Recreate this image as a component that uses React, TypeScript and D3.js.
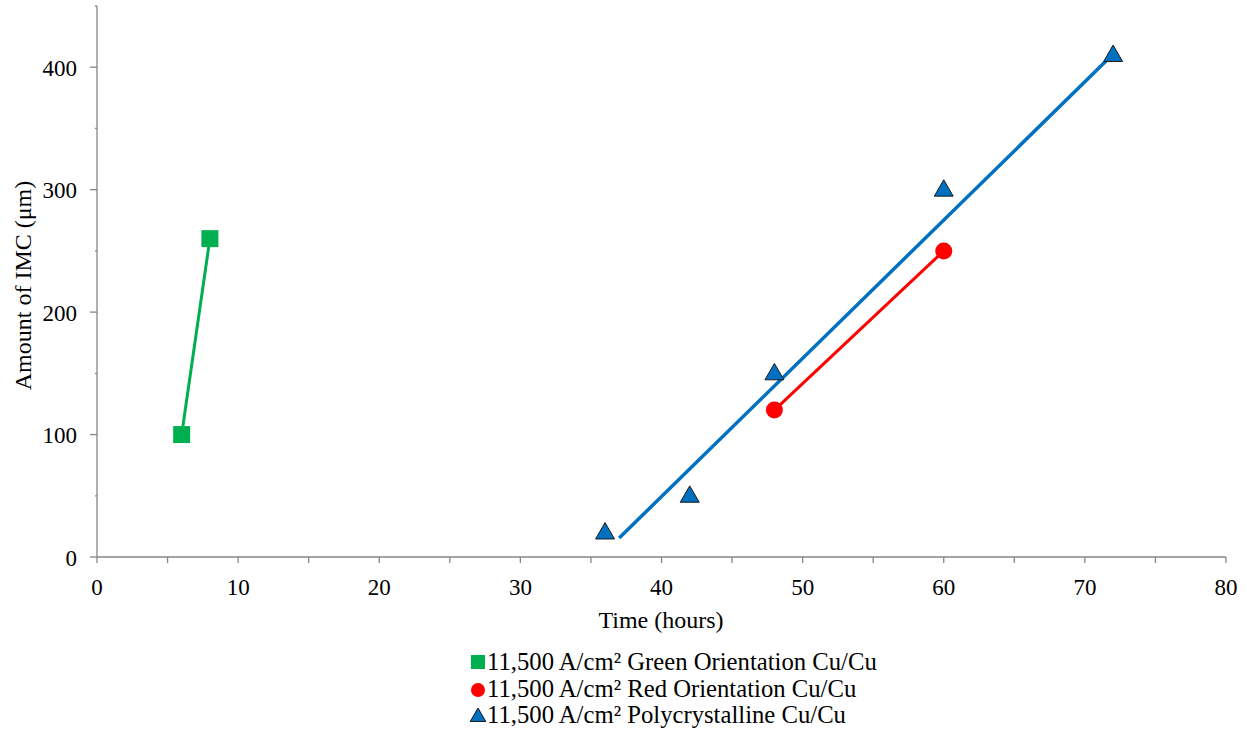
import React from "react";
import * as d3 from "d3";

const greenX = [6, 8];
const greenY = [100, 260];
const redX = [48, 60];
const redY = [120, 250];
const polyX = [36, 42, 48, 60, 72];
const polyY = [20, 50, 150, 300, 410];
const trendX = [37, 71.5];
const trendY = [15.5, 405];
const xTicks = [0, 10, 20, 30, 40, 50, 60, 70, 80];
const yTicks = [0, 100, 200, 300, 400];
const legendLabels = [
  "11,500 A/cm² Green Orientation Cu/Cu",
  "11,500 A/cm² Red Orientation Cu/Cu",
  "11,500 A/cm² Polycrystalline Cu/Cu",
];

const FONT = "'Liberation Serif', 'Times New Roman', serif";
const AXIS = "#868686";
const GREEN = "#00B050";
const RED = "#FF0000";
const BLUE = "#0070C0";

export default function App() {
  const x = d3.scaleLinear().domain([0, 80]).range([97, 1226]);
  const y = d3.scaleLinear().domain([0, 450]).range([557, 6]);
  const line = d3
    .line<[number, number]>()
    .x((d) => x(d[0]))
    .y((d) => y(d[1]));
  const zip = (a: number[], b: number[]) => a.map((v, i) => [v, b[i]] as [number, number]);
  const xMinor = d3.range(0, 81, 5);
  const yMinor = d3.range(0, 451, 50);
  const tri = d3.symbol().type(d3.symbolTriangle).size(155)();

  return (
    <svg width={1247} height={729} style={{ position: "absolute", left: 0, top: 0, background: "#fff" }}>
      <rect width={1247} height={729} fill="#fff" />
      {/* axes */}
      <line x1={x(0)} x2={x(80)} y1={y(0)} y2={y(0)} stroke={AXIS} strokeWidth={1.3} />
      <line x1={x(0)} x2={x(0)} y1={y(0)} y2={y(450)} stroke={AXIS} strokeWidth={1.3} />
      {xMinor.map((t) => (
        <line key={"xt" + t} x1={x(t)} x2={x(t)} y1={y(0)} y2={y(0) + 6} stroke={AXIS} strokeWidth={1.3} />
      ))}
      {yMinor.map((t) => (
        <line
          key={"yt" + t}
          x1={x(0) - (t % 100 === 0 ? 7 : 2)}
          x2={x(0)}
          y1={y(t)}
          y2={y(t)}
          stroke={AXIS}
          strokeWidth={1.3}
        />
      ))}
      {xTicks.map((t) => (
        <text key={"xl" + t} x={x(t)} y={595} textAnchor="middle" fontFamily={FONT} fontSize={23} fill="#000">
          {t}
        </text>
      ))}
      {yTicks.map((t) => (
        <text key={"yl" + t} x={77} y={y(t) + 8.5} textAnchor="end" fontFamily={FONT} fontSize={23} fill="#000">
          {t}
        </text>
      ))}
      <text x={661} y={628} textAnchor="middle" fontFamily={FONT} fontSize={24} fill="#000">
        Time (hours)
      </text>
      <text
        transform={`translate(31, 285.5) rotate(-90)`}
        textAnchor="middle"
        fontFamily={FONT}
        fontSize={24}
        fill="#000"
      >
        Amount of IMC (μm)
      </text>

      {/* series lines */}
      <path d={line(zip(greenX, greenY)) || ""} fill="none" stroke={GREEN} strokeWidth={3} />
      <path d={line(zip(redX, redY)) || ""} fill="none" stroke={RED} strokeWidth={3} />
      <path d={line(zip(trendX, trendY)) || ""} fill="none" stroke={BLUE} strokeWidth={3.5} />

      {/* markers */}
      {greenX.map((v, i) => (
        <rect key={"g" + i} x={x(v) - 8.5} y={y(greenY[i]) - 8.5} width={17} height={17} fill={GREEN} />
      ))}
      {redX.map((v, i) => (
        <circle key={"r" + i} cx={x(v)} cy={y(redY[i])} r={8.5} fill={RED} />
      ))}
      {polyX.map((v, i) => (
        <path
          key={"p" + i}
          d={tri || ""}
          transform={`translate(${x(v)}, ${y(polyY[i]) + 1})`}
          fill={BLUE}
          stroke="#1a1a1a"
          strokeWidth={1}
        />
      ))}

      {/* legend */}
      <rect x={471} y={655} width={14} height={14} fill={GREEN} />
      <circle cx={478} cy={690} r={7} fill={RED} />
      <path d={d3.symbol().type(d3.symbolTriangle).size(105)() || ""} transform="translate(478, 717)" fill={BLUE} stroke="#1a1a1a" strokeWidth={1} />
      {legendLabels.map((l, i) => (
        <text key={"lg" + i} x={487} y={670 + i * 26.5} fontFamily={FONT} fontSize={24.7} fill="#000">
          {l}
        </text>
      ))}
    </svg>
  );
}
